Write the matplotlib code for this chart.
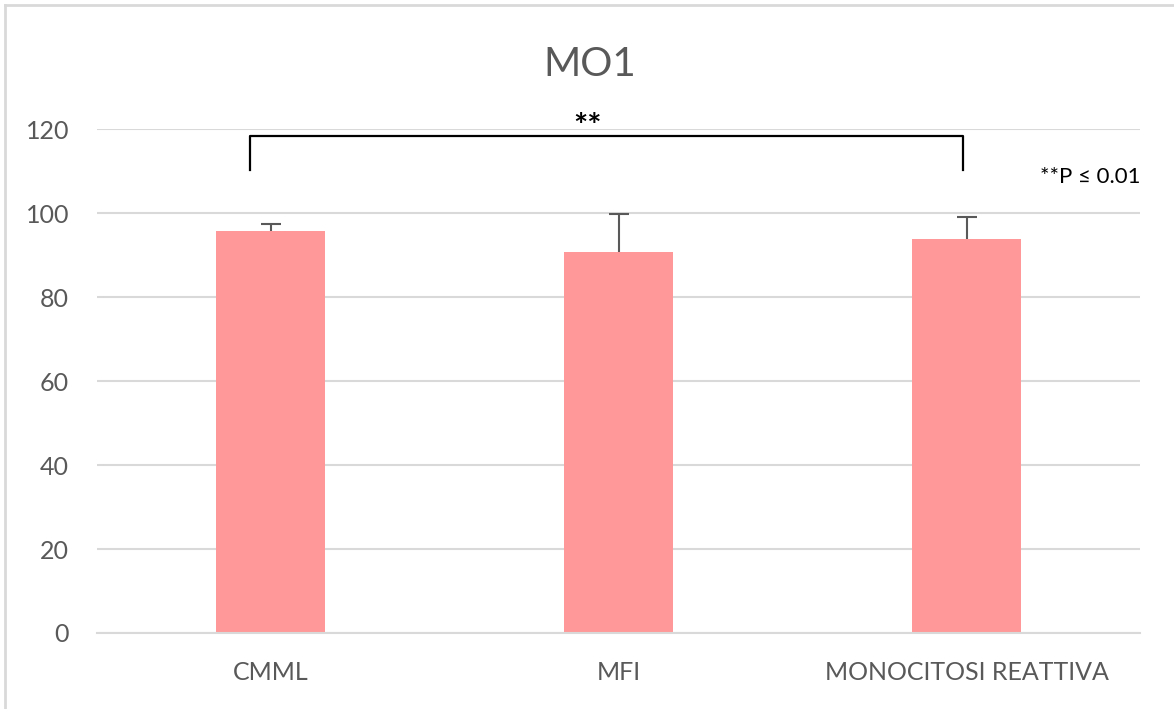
import numpy as np
import matplotlib.pyplot as plt
from matplotlib.lines import Line2D

plt.rcParams['font.family'] = ['Lato', 'DejaVu Sans']

categories = ['CMML', 'MFI', 'MONOCITOSI REATTIVA']
means = [95.7, 90.8, 93.7]
errors = [1.7, 8.9, 5.3]
yticks = [0, 20, 40, 60, 80, 100, 120]

# significance bracket between CMML and MONOCITOSI REATTIVA
bracket_x = [-0.06, 1.99]
bracket_top = 118.3
bracket_foot = 110.2

bar_color = '#FF9999'
text_gray = '#595959'
grid_gray = '#D9D9D9'

fig = plt.figure(figsize=(11.74, 7.09), dpi=100)
ax = fig.add_axes([0.0826, 0.1072, 0.9714 - 0.0826, 0.818 - 0.1072])

x = np.arange(len(categories))
ax.bar(x, means, width=0.314, color=bar_color, zorder=2)
_, caps, _ = ax.errorbar(x, means, yerr=[np.zeros(len(errors)), errors], fmt='none',
                         ecolor=text_gray, elinewidth=1.5, capsize=7, capthick=1.5,
                         zorder=3)
# plus-only error bars: hide the cap sitting on the bar top
caps[0].set_visible(False)

ax.set_xlim(-0.5, len(categories) - 0.5)
ax.set_ylim(0, 120)
ax.set_yticks(yticks)
ax.set_xticks(x)
ax.set_xticklabels(categories)
ax.yaxis.grid(True, color=grid_gray, linewidth=1.5, zorder=0)
ax.set_axisbelow(True)
for side in ['top', 'right', 'left']:
    ax.spines[side].set_visible(False)
ax.spines['bottom'].set_color(grid_gray)
ax.spines['bottom'].set_linewidth(1.5)
ax.tick_params(axis='both', length=0, labelsize=18, colors=text_gray)
ax.tick_params(axis='y', pad=20)
ax.tick_params(axis='x', pad=20)

fig.text(0.502, 1 - 76 / 709, 'MO1', ha='center', va='baseline',
         fontsize=29, color=text_gray)

# bracket and stars
ax.plot([bracket_x[0], bracket_x[0], bracket_x[1], bracket_x[1]],
        [bracket_foot, bracket_top, bracket_top, bracket_foot],
        color='black', linewidth=1.6, clip_on=False, zorder=4)
ax.text(0.91, bracket_top - 1.5, '**', ha='center', va='bottom',
        fontsize=24, fontweight='bold', color='black')
ax.text(len(categories) - 0.5, 108.5, '**P ≤ 0.01', ha='right', va='center',
        fontsize=16, color='black')

# outer chart frame (top and left edges)
fig.add_artist(Line2D([5 / 1174, 1], [1 - 5 / 709, 1 - 5 / 709],
                      transform=fig.transFigure, color='#D9D9D9', linewidth=2))
fig.add_artist(Line2D([5 / 1174, 5 / 1174], [0, 1 - 5 / 709],
                      transform=fig.transFigure, color='#D9D9D9', linewidth=2))

fig.savefig('out.png', dpi=100)
